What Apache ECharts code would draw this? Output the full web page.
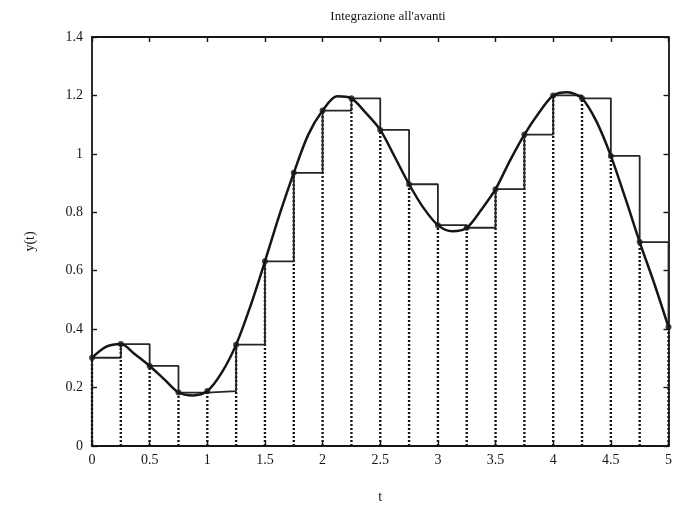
<!DOCTYPE html>
<html>
<head>
<meta charset="utf-8">
<script src="https://cdn.jsdelivr.net/npm/echarts@6/dist/echarts.min.js"></script>
<style>
  html, body { margin: 0; padding: 0; background: #fff; overflow: hidden; width: 100%; height: 100%; }
  #chart { width: 100vw; height: 100vh; }
</style>
</head>
<body>
<div id="chart"></div>
<script>
// Sampling instants of the forward (explicit) rule and the sampled solution
const tSample = [0, 0.25, 0.5, 0.75, 1, 1.25, 1.5, 1.75, 2, 2.25, 2.5,
                 2.75, 3, 3.25, 3.5, 3.75, 4, 4.25, 4.5, 4.75, 5];
const ySample = [0.302, 0.349, 0.274, 0.183, 0.188, 0.347, 0.632, 0.935, 1.148, 1.19, 1.082,
                 0.896, 0.756, 0.747, 0.879, 1.066, 1.2, 1.19, 0.993, 0.698, 0.407];

// Finer trace of the continuous solution y(t)
const tCurve = [0, 0.125, 0.25, 0.375, 0.5, 0.625, 0.75, 0.875, 1, 1.125, 1.25,
                1.375, 1.5, 1.625, 1.75, 1.875, 2, 2.125, 2.25, 2.375, 2.5,
                2.625, 2.75, 2.875, 3, 3.125, 3.25, 3.375, 3.5, 3.625, 3.75,
                3.875, 4, 4.125, 4.25, 4.375, 4.5, 4.625, 4.75, 4.875, 5];
const yCurve = [0.302, 0.340, 0.349, 0.313, 0.274, 0.229, 0.183, 0.173, 0.188, 0.251, 0.347,
                0.480, 0.632, 0.790, 0.935, 1.065, 1.148, 1.197, 1.19, 1.14, 1.082,
                0.99, 0.896, 0.815, 0.756, 0.735, 0.747, 0.808, 0.879, 0.977, 1.066,
                1.14, 1.2, 1.211, 1.19, 1.111, 0.993, 0.849, 0.698, 0.558, 0.407];

// Axis tick values
const xTicks = [0, 0.5, 1, 1.5, 2, 2.5, 3, 3.5, 4, 4.5, 5];
const yTicks = [0, 0.2, 0.4, 0.6, 0.8, 1, 1.2, 1.4];

const titleText = "Integrazione all'avanti";
const xName = 't';
const yName = 'y(t)';

const FONT = '"Liberation Serif", "DejaVu Serif", serif';
const INK = '#161616';

const pairs = (xs, ys) => xs.map((x, i) => [x, ys[i]]);

function fmt(v) { return String(Math.round(v * 10) / 10); }

const baseAxis = {
  axisLine: { show: true, onZero: false, lineStyle: { color: INK, width: 1.8 } },
  axisTick: { show: true, inside: true, length: 5, lineStyle: { color: INK, width: 1.4 } },
  splitLine: { show: false }
};

const chart = echarts.init(document.getElementById('chart'), null, { renderer: 'canvas' });

chart.setOption({
  backgroundColor: '#fff',
  animation: false,
  title: {
    text: titleText,
    left: 383, top: 5, textAlign: 'center',
    textStyle: { fontFamily: FONT, fontSize: 13, fontWeight: 'normal', color: INK }
  },
  grid: { left: 92, right: 5, top: 37, bottom: 54, containLabel: false },
  xAxis: [
    Object.assign({}, baseAxis, {
      type: 'value', min: xTicks[0], max: xTicks[xTicks.length - 1], interval: 0.5,
      position: 'bottom',
      name: xName, nameLocation: 'middle', nameGap: 44,
      nameTextStyle: { fontFamily: FONT, fontSize: 14, color: INK },
      axisLabel: { fontFamily: FONT, fontSize: 14, color: INK, margin: 7, formatter: fmt }
    }),
    Object.assign({}, baseAxis, {
      type: 'value', min: xTicks[0], max: xTicks[xTicks.length - 1], interval: 0.5,
      position: 'top', axisLabel: { show: false }
    })
  ],
  yAxis: [
    Object.assign({}, baseAxis, {
      type: 'value', min: yTicks[0], max: yTicks[yTicks.length - 1], interval: 0.2,
      position: 'left',
      name: yName, nameLocation: 'middle', nameGap: 55, nameRotate: 90,
      nameTextStyle: { fontFamily: FONT, fontSize: 14, color: INK },
      axisLabel: { fontFamily: FONT, fontSize: 14, color: INK, margin: 9, formatter: fmt }
    }),
    Object.assign({}, baseAxis, {
      type: 'value', min: yTicks[0], max: yTicks[yTicks.length - 1], interval: 0.2,
      position: 'right', axisLabel: { show: false }
    })
  ],
  series: [
    {
      // dotted verticals from the t axis up to each sample
      type: 'custom',
      xAxisIndex: 0, yAxisIndex: 0,
      data: pairs(tSample, ySample),
      renderItem: function (params, api) {
        const p0 = api.coord([api.value(0), 0]);
        const p1 = api.coord([api.value(0), api.value(1)]);
        return {
          type: 'line',
          shape: { x1: p0[0], y1: p0[1], x2: p1[0], y2: p1[1] },
          style: { stroke: INK, lineWidth: 2.4, lineDash: [2, 2] }
        };
      },
      z: 1
    },
    {
      // rectangles of the forward rule: height y(t_k) on [t_k, t_k+1]
      type: 'line',
      step: 'end',
      data: pairs(tSample, ySample),
      showSymbol: false,
      lineStyle: { color: '#262626', width: 1.8 },
      z: 2
    },
    {
      type: 'line',
      smooth: 0.3,
      data: pairs(tCurve, yCurve),
      showSymbol: false,
      lineStyle: { color: INK, width: 2.5 },
      z: 3
    },
    {
      type: 'scatter',
      data: pairs(tSample, ySample),
      symbol: 'circle',
      symbolSize: 6,
      itemStyle: { color: INK },
      z: 4
    }
  ]
});
</script>
</body>
</html>
